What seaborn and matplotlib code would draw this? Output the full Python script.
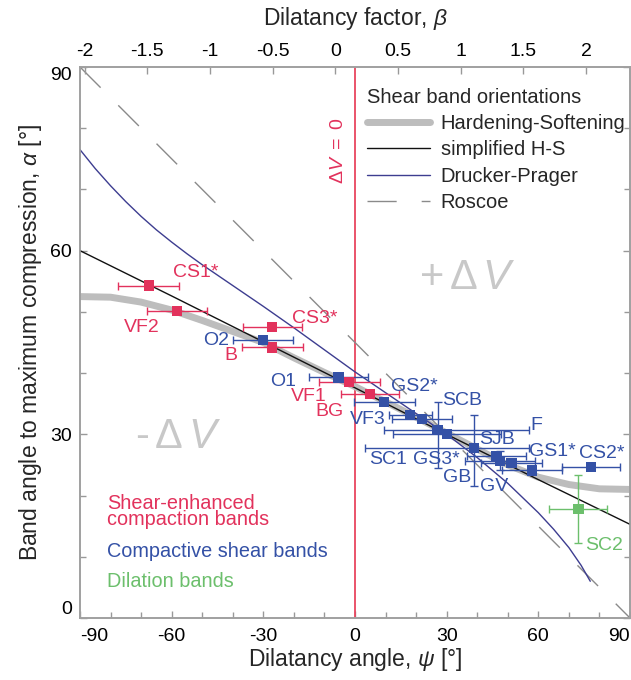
import numpy as np
import pandas as pd
import seaborn as sns
import matplotlib.pyplot as plt
from matplotlib.lines import Line2D
from matplotlib.ticker import MultipleLocator

# ---------------- data ----------------
# theoretical curves
hs_psi = [-90, -80, -70, -60, -50, -40, -30, -20, -10, 0, 10, 20, 30, 40, 50, 60, 70, 80, 90]
hs_alpha = [52.5, 52.4, 51.6, 50.3, 48.6, 46.8, 45.0, 42.5, 40.1, 37.8, 35.3, 32.8, 30.2, 27.6, 25.0, 23.0, 21.8, 21.1, 21.0]

shs_psi = [-90, -60, -30, 0, 30, 60, 90]
shs_alpha = [60.0, 52.6, 45.1, 37.6, 30.0, 22.6, 15.3]

dp_psi = [-90, -85, -80, -75, -70, -65, -60, -55, -50, -45, -40, -30, -20, -10, 0, 10, 20, 30, 40, 50, 60, 65, 70, 74, 77]
dp_alpha = [76.5, 73.4, 70.6, 68.0, 65.6, 63.4, 61.4, 59.5, 57.7, 56.0, 54.3, 50.9, 47.4, 43.8, 40.2, 36.8, 33.4, 30.0, 26.2, 22.0, 17.2, 14.5, 11.5, 8.6, 6.0]

roscoe_psi = [-90, 90]
roscoe_alpha = [90, 0]

# shear-enhanced compaction bands (red)
red_names = ["CS1*", "VF2", "CS3*", "B", "VF1", "BG"]
red_psi = [-67.5, -58.3, -27.1, -27.1, -1.9, 4.9]
red_alpha = [54.3, 50.2, 47.5, 44.2, 38.5, 36.6]
red_xerr = [10.0, 9.7, 9.7, 10.0, 10.0, 9.6]

# compactive shear bands (blue)
blue_names = ["O2", "O1", "GS2*", "VF3", "SC1", "SCB", "GS3*", "SJB", "GS1*", "GB", "GV", "F", "CS2*"]
blue_psi = [-30.2, -5.4, 9.6, 18.1, 21.9, 27.0, 30.1, 39.0, 46.3, 47.4, 51.2, 58.0, 77.3]
blue_alpha = [45.4, 39.3, 35.3, 33.2, 32.5, 30.7, 30.0, 27.8, 26.4, 25.7, 25.3, 24.1, 24.7]
blue_xerr_lo = [9.8, 9.6, 9.8, 7.0, 9.7, 17.4, 17.7, 35.7, 9.8, 11.5, 10.0, 9.8, 9.5]
blue_xerr_hi = [9.8, 9.6, 10.0, 7.0, 9.7, 30.0, 17.7, 18.0, 9.8, 11.5, 10.0, 9.8, 9.5]
blue_yerr_lo = [0, 0, 0, 0, 0, 6.2, 0, 6.3, 0, 1.5, 0, 0, 0]
blue_yerr_hi = [0, 0, 0, 0, 0, 4.6, 0, 5.4, 0, 1.5, 0, 0, 0]

# dilation bands (green)
green_names = ["SC2"]
green_psi = [73.1]
green_alpha = [17.8]
green_xerr = [9.5]
green_yerr = [5.6]

# label anchor positions (data coords)
red_lab_x = [-52.0, -69.7, -13.3, -40.5, -15.0, -8.4]
red_lab_y = [56.4, 47.5, 49.0, 42.8, 36.2, 33.7]
blue_lab_x = [-45.4, -23.5, 19.4, 4.1, 10.7, 35.2, 26.5, 46.6, 64.6, 33.5, 45.5, 59.2, 80.9]
blue_lab_y = [45.4, 38.7, 37.8, 32.4, 25.9, 35.5, 25.9, 29.2, 27.2, 23.0, 21.5, 31.5, 26.9]
green_lab_x = [81.5]
green_lab_y = [11.9]

# tick values
x_ticks = [-90, -60, -30, 0, 30, 60, 90]
y_ticks = [0, 30, 60, 90]
beta_ticks = [-2, -1.5, -1, -0.5, 0, 0.5, 1, 1.5, 2]
beta_labels = ["-2", "-1.5", "-1", "-0.5", "0", "0.5", "1", "1.5", "2"]

RED = "#E2325C"
BLUE = "#3451A6"
GREEN = "#6CBF6C"
NAVY = "#3D3D90"
LGREY = "#BDBDBD"

# ---------------- style ----------------
sns.set_style("ticks")
plt.rcParams['font.family'] = ['Liberation Sans', 'DejaVu Sans']
plt.rcParams['mathtext.fontset'] = 'custom'
plt.rcParams['mathtext.rm'] = 'Liberation Sans'
plt.rcParams['mathtext.it'] = 'Liberation Sans:italic'
plt.rcParams['mathtext.sf'] = 'Liberation Sans'
plt.rcParams['axes.unicode_minus'] = False

fig = plt.figure(figsize=(6.31, 6.80), dpi=100)
ax = fig.add_axes([80 / 631, 1 - 618 / 680, 550 / 631, 551 / 680])

# curves
sns.lineplot(x=hs_psi, y=hs_alpha, ax=ax, color=LGREY, lw=5, sort=False, estimator=None, zorder=2)
sns.lineplot(x=shs_psi, y=shs_alpha, ax=ax, color="#111111", lw=1.0, sort=False, estimator=None, zorder=3)
sns.lineplot(x=dp_psi, y=dp_alpha, ax=ax, color=NAVY, lw=1.0, sort=False, estimator=None, zorder=3)
sns.lineplot(x=roscoe_psi, y=roscoe_alpha, ax=ax, color="#8A8A8A", lw=1.0, sort=False, estimator=None, zorder=2)
ax.lines[-1].set_dashes((21, 18))

# zero volume change line
ax.axvline(0, color="#E8455F", lw=1.3, zorder=1)

# error bars
ax.errorbar(red_psi, red_alpha, xerr=red_xerr, fmt='none', ecolor=RED, elinewidth=1, capsize=3, capthick=1, zorder=4)
ax.errorbar(blue_psi, blue_alpha, xerr=[blue_xerr_lo, blue_xerr_hi], yerr=[blue_yerr_lo, blue_yerr_hi],
            fmt='none', ecolor=BLUE, elinewidth=1, capsize=3, capthick=1, zorder=4)
ax.errorbar(green_psi, green_alpha, xerr=green_xerr, yerr=green_yerr, fmt='none', ecolor=GREEN,
            elinewidth=1, capsize=3, capthick=1, zorder=4)

# markers
sns.scatterplot(x=red_psi, y=red_alpha, ax=ax, marker='s', s=55, color=RED, edgecolor='none', zorder=5)
sns.scatterplot(x=blue_psi, y=blue_alpha, ax=ax, marker='s', s=55, color=BLUE, edgecolor='none', zorder=5)
sns.scatterplot(x=green_psi, y=green_alpha, ax=ax, marker='s', s=55, color=GREEN, edgecolor='none', zorder=5)

# point labels
for names, lx, ly, c in [(red_names, red_lab_x, red_lab_y, RED),
                         (blue_names, blue_lab_x, blue_lab_y, BLUE),
                         (green_names, green_lab_x, green_lab_y, GREEN)]:
    for n, x, y in zip(names, lx, ly):
        ax.text(x, y, n, color=c, fontsize=14, ha='center', va='center', zorder=6)

# region texts
ax.text(36.7, 55.6, r'+$\,\Delta\,V$', color="#C8C8C8", fontsize=30, ha='center', va='center')
ax.text(-58.0, 29.6, r'-$\,\Delta\,V$', color="#C8C8C8", fontsize=30, ha='center', va='center')
ax.text(-5.3, 76.3, r'$\Delta V\ =\ 0$', color=RED, fontsize=14, rotation=90, ha='center', va='center')

# category texts
ax.text(0.0485, 0.193, "Shear-enhanced\ncompaction bands", transform=ax.transAxes, color=RED,
        fontsize=14.3, ha='left', va='center', linespacing=0.8)
ax.text(0.0485, 0.110, "Compactive shear bands", transform=ax.transAxes, color=BLUE,
        fontsize=14.3, ha='left', va='baseline')
ax.text(0.0485, 0.057, "Dilation bands", transform=ax.transAxes, color=GREEN,
        fontsize=14.3, ha='left', va='baseline')

# legend
handles = [Line2D([], [], color=LGREY, lw=5),
           Line2D([], [], color="#111111", lw=1.0),
           Line2D([], [], color=NAVY, lw=1.0),
           Line2D([], [], color="#8A8A8A", lw=1.0, dashes=(21, 18))]
labels = ["Hardening-Softening", "simplified H-S", "Drucker-Prager", "Roscoe"]
leg = ax.legend(handles, labels, title="Shear band orientations", loc='upper left',
                bbox_to_anchor=(0.522, 0.962), frameon=False, fontsize=14.5, title_fontsize=14.5,
                handlelength=3.1, handletextpad=0.55, labelspacing=0.36, borderaxespad=0,
                borderpad=0)
leg._legend_box.align = "left"

# axes limits & ticks
ax.set_xlim(-90, 90)
ax.set_ylim(0, 90)
ax.set_xticks(x_ticks)
ax.set_yticks(y_ticks)
ax.xaxis.set_minor_locator(MultipleLocator(10))
ax.yaxis.set_minor_locator(MultipleLocator(10))
ax.tick_params(which='both', direction='in', colors='#999999', labelcolor='black',
               labelsize=14, right=True, top=False)
ax.tick_params(which='major', length=5, width=1)
ax.tick_params(which='minor', length=4, width=1)
ax.tick_params(axis='x', pad=7)
ax.tick_params(axis='y', pad=6)
for s in ax.spines.values():
    s.set_color('#A0A0A0')
    s.set_linewidth(1.2)

ax.set_xlabel(r'Dilatancy angle, $\psi$ [°]', fontsize=16.5, labelpad=1)
ax.set_ylabel(r'Band angle to maximum compression, $\alpha$ [°]', fontsize=16.5, labelpad=4)

# top axis: dilatancy factor
ax2 = ax.twiny()
ax2.set_xlim(-2.038, 2.351)
ax2.set_xticks(beta_ticks)
ax2.set_xticklabels(beta_labels)
ax2.tick_params(which='both', direction='in', colors='#999999', labelcolor='black',
                labelsize=14, length=5, width=1, pad=5)
for s in ax2.spines.values():
    s.set_color('#A0A0A0')
    s.set_linewidth(1.2)
ax2.set_xlabel(r'Dilatancy factor, $\beta$', fontsize=16.5, labelpad=13)

# align end tick labels inside the frame, as in the reference
fig.canvas.draw()
for t in ax.xaxis.get_major_ticks():
    if t.get_loc() == x_ticks[0]:
        t.label1.set_horizontalalignment('left')
    elif t.get_loc() == x_ticks[-1]:
        t.label1.set_horizontalalignment('right')
for t in ax.yaxis.get_major_ticks():
    if t.get_loc() == y_ticks[0]:
        t.label1.set_verticalalignment('bottom')
    elif t.get_loc() == y_ticks[-1]:
        t.label1.set_verticalalignment('top')

fig.savefig("out.png", dpi=100)
